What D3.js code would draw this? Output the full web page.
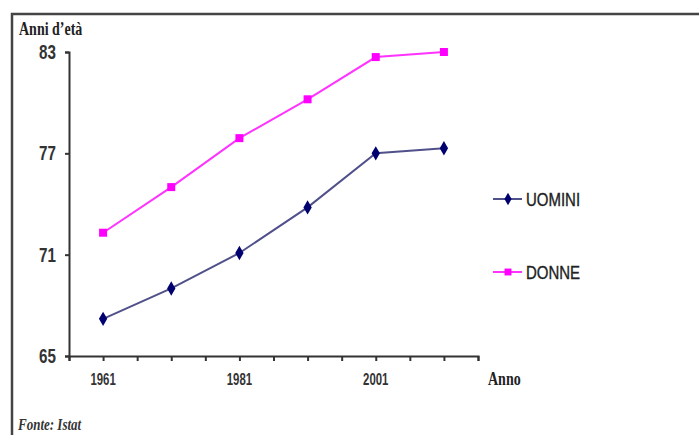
<!DOCTYPE html>
<html>
<head>
<meta charset="utf-8">
<script src="https://cdn.jsdelivr.net/npm/d3@7"></script>
<style>
  body { margin: 0; background: #fff; }
  svg { display: block; }
</style>
</head>
<body>
<div id="chart"></div>
<script>
const years = [1961, 1971, 1981, 1991, 2001, 2011]
const uomini = [67.2, 69.0, 71.1, 73.8, 77.0, 77.3]
const donne = [72.3, 75.0, 77.9, 80.2, 82.7, 83.0]
const yTicks = [65, 71, 77, 83]
const xLabels = [1961, 1981, 2001]

const width = 699
const height = 435

const svg = d3.select('#chart')
  .append('svg')
  .attr('width', width)
  .attr('height', height)

// frame (top + left only)
svg.append('path')
  .attr('d', `M12,${height} V14 H${width}`)
  .attr('fill', 'none')
  .attr('stroke', '#444')
  .attr('stroke-width', 2.5)

const x = d3.scaleLinear().domain([1956, 2016]).range([69, 478])
const y = d3.scaleLinear().domain([65, 83]).range([356, 52])

const stretch = (sel, px, py, sx, sy) => sel.attr('transform', `translate(${px},${py}) scale(${sx},${sy})`)

// y axis
const yAxis = svg.append('g')
  .attr('transform', 'translate(69,0)')
  .call(d3.axisLeft(y).tickValues(yTicks).tickSize(4).tickFormat(''))
yAxis.select('.domain').attr('stroke', '#333').attr('stroke-width', 2)
yAxis.selectAll('.tick line').attr('stroke', '#333').attr('stroke-width', 2)

yTicks.forEach(v => {
  svg.append('text')
    .text(v)
    .attr('text-anchor', 'end')
    .attr('font-family', 'Liberation Sans, Arial, sans-serif')
    .attr('font-weight', 'bold')
    .attr('font-size', 16)
    .attr('fill', '#333')
    .call(stretch, 56, y(v) + 7, 0.95, 1.25)
})

// x axis
const xAxis = svg.append('g')
  .attr('transform', 'translate(0,356)')
  .call(d3.axisBottom(x).tickValues(d3.range(1956, 2017, 5)).tickSize(5).tickFormat(''))
xAxis.select('.domain').attr('stroke', '#333').attr('stroke-width', 2)
xAxis.selectAll('.tick line').attr('stroke', '#333').attr('stroke-width', 2)

xLabels.forEach(v => {
  svg.append('text')
    .text(v)
    .attr('text-anchor', 'middle')
    .attr('font-family', 'Liberation Sans, Arial, sans-serif')
    .attr('font-weight', 'bold')
    .attr('font-size', 15)
    .attr('fill', '#333')
    .call(stretch, x(v), 385, 0.76, 1.12)
})

svg.append('text')
  .text('Anno')
  .attr('font-family', 'Liberation Serif, Times New Roman, serif')
  .attr('font-weight', 'bold')
  .attr('font-size', 14)
  .attr('fill', '#222')
  .call(stretch, 488, 385, 1, 1.3)

svg.append('text')
  .text('Anni d\u2019età')
  .attr('font-family', 'Liberation Serif, Times New Roman, serif')
  .attr('font-weight', 'bold')
  .attr('font-size', 14)
  .attr('fill', '#222')
  .call(stretch, 19, 35, 1, 1.35)

svg.append('text')
  .text('Fonte: Istat')
  .attr('font-family', 'Liberation Serif, Times New Roman, serif')
  .attr('font-weight', 'bold')
  .attr('font-style', 'italic')
  .attr('font-size', 13)
  .attr('fill', '#333')
  .call(stretch, 18, 430, 1, 1.3)

// series
const series = [
  { name: 'UOMINI', values: uomini, line: '#50508a', mark: '#000070', symbol: d3.symbolDiamond, size: 60 },
  { name: 'DONNE', values: donne, line: '#ff33ff', mark: '#ff00ff', symbol: d3.symbolSquare, size: 64 }
]

const line = d3.line().x(d => x(d[0])).y(d => y(d[1]))

series.forEach(s => {
  const pts = years.map((yr, i) => [yr, s.values[i]])
  svg.append('path')
    .attr('d', line(pts))
    .attr('fill', 'none')
    .attr('stroke', s.line)
    .attr('stroke-width', 2)
  svg.selectAll(null)
    .data(pts)
    .enter()
    .append('path')
    .attr('d', d3.symbol().type(s.symbol).size(s.size))
    .attr('transform', d => `translate(${x(d[0])},${y(d[1])})`)
    .attr('fill', s.mark)
})

// legend
const legendY = [199, 272]
series.forEach((s, i) => {
  const g = svg.append('g').attr('transform', `translate(493,${legendY[i]})`)
  g.append('line')
    .attr('x1', 0).attr('x2', 29)
    .attr('stroke', s.line)
    .attr('stroke-width', 2)
  g.append('path')
    .attr('d', d3.symbol().type(s.symbol).size(s.size * 0.75))
    .attr('transform', 'translate(15,0)')
    .attr('fill', s.mark)
  g.append('text')
    .text(s.name)
    .attr('font-family', 'Liberation Sans, Arial, sans-serif')
    .attr('font-size', 15)
    .attr('stroke', '#222')
    .attr('stroke-width', 0.3)
    .attr('fill', '#222')
    .call(stretch, 33, 6.5, 1, 1.2)
})
</script>
</body>
</html>
